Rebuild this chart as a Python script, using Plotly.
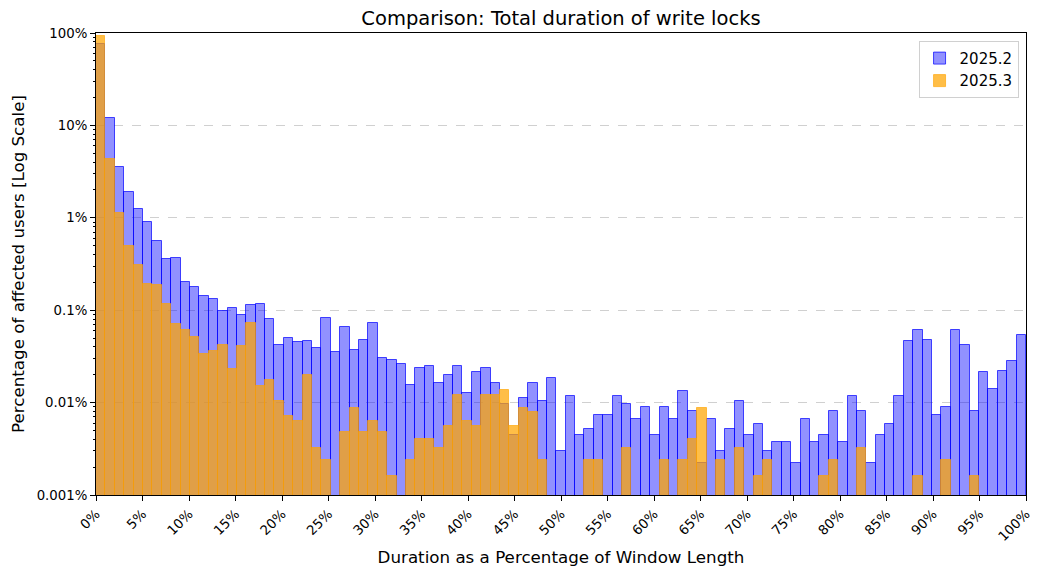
import numpy as np
import plotly.graph_objects as go

# percentage of affected users per duration bin (99 bins over 0-100 %)
v2025_2 = [
    76, 11.9, 3.52, 1.89, 1.245, 0.893, 0.557, 0.356, 0.365, 0.202,
    0.177, 0.141, 0.131, 0.0989, 0.105, 0.088, 0.113, 0.116, 0.0798, 0.0417,
    0.0497, 0.045, 0.046, 0.0387, 0.0817, 0.0353, 0.0653, 0.0371, 0.0475, 0.0721,
    0.0301, 0.0287, 0.0259, 0.0154, 0.0235, 0.0247, 0.0162, 0.0197, 0.0247, 0.0126,
    0.0213, 0.0235, 0.0162, 0.00966, 0.00446, 0.0112, 0.0162, 0.0103, 0.0183, 0.00297,
    0.0117, 0.00446, 0.00514, 0.0073, 0.0073, 0.0117, 0.0096, 0.00665, 0.0089, 0.00446,
    0.0089, 0.00665, 0.0132, 0.00805, 0.00222, 0.00665, 0.00297, 0.00514, 0.0104, 0.00446,
    0.00582, 0.00297, 0.00372, 0.00372, 0.00222, 0.00665, 0.00372, 0.00446, 0.0081, 0.00372,
    0.0117, 0.0081, 0.00222, 0.00446, 0.00586, 0.0117, 0.0465, 0.0611, 0.0475, 0.00735,
    0.00896, 0.0611, 0.042, 0.0081, 0.0214, 0.014, 0.022, 0.0282, 0.054,
]
v2025_3 = [
    92.7, 4.33, 1.13, 0.495, 0.308, 0.192, 0.188, 0.116, 0.071, 0.061,
    0.0513, 0.0336, 0.0361, 0.042, 0.0231, 0.041, 0.0726, 0.0151, 0.0174, 0.0104,
    0.00716, 0.00632, 0.0199, 0.00323, 0.0024, 0, 0.0048, 0.0088, 0.0048, 0.0064,
    0.0048, 0.0016, 0, 0.0024, 0.004, 0.004, 0.0032, 0.0056, 0.012, 0.0064,
    0.0056, 0.012, 0.012, 0.0136, 0.0056, 0.0088, 0.008, 0.0024, 0, 0,
    0, 0, 0.0024, 0.0024, 0, 0, 0.0032, 0, 0, 0,
    0.0024, 0, 0.0024, 0.004, 0.0088, 0, 0.0024, 0, 0.0032, 0,
    0.0016, 0.0024, 0, 0, 0, 0, 0, 0.0016, 0.0024, 0,
    0, 0.0032, 0, 0, 0, 0, 0, 0.0016, 0, 0,
    0.0024, 0, 0, 0.0016, 0, 0, 0, 0, 0,
]
series_names = ["2025.2", "2025.3"]
y_ticks = [0.001, 0.01, 0.1, 1, 10, 100]
y_labels = ["0.001%", "0.01%", "0.1%", "1%", "10%", "100%"]
x_ticks = list(range(0, 101, 5))
x_labels = [f"{t}%" for t in x_ticks]

edges = np.linspace(0, 100, len(v2025_2) + 1)
centers = (edges[:-1] + edges[1:]) / 2
width = edges[1] - edges[0]


def clean(vals):
    # zero-height bins are not drawn on a log axis
    return [v if v > 0 else None for v in vals]


fig = go.Figure()
fig.add_trace(go.Bar(
    x=centers, y=clean(v2025_2), width=width, name=series_names[0],
    marker=dict(color="rgba(0,0,255,0.43)",
                line=dict(color="rgba(0,0,255,0.7)", width=1)),
))
fig.add_trace(go.Bar(
    x=centers, y=clean(v2025_3), width=width, name=series_names[1],
    marker=dict(color="rgba(255,165,0,0.72)",
                line=dict(color="rgba(255,165,0,0.65)", width=1)),
))

minor_vals = [m * 10.0 ** e for e in range(-3, 2) for m in range(2, 10)]

# the page body adds an 8px margin, so the figure is a bit smaller
fig.update_layout(
    width=1046, height=568,
    barmode="overlay",
    paper_bgcolor="white", plot_bgcolor="white",
    font=dict(family="DejaVu Sans", color="black", size=13.3),
    margin=dict(l=88, r=28, t=25, b=81),
    title=dict(text="Comparison: Total duration of write locks",
               x=0.5, xref="paper", xanchor="center",
               y=0.982, yanchor="middle", font=dict(size=19.5)),
    legend=dict(x=0.992, y=0.983, xanchor="right", yanchor="top",
                bgcolor="rgba(255,255,255,0.8)", bordercolor="#d0d0d0",
                borderwidth=1, font=dict(size=15)),
    bargap=0,
)
fig.update_xaxes(
    range=[0, 100], tickmode="array", tickvals=x_ticks, ticktext=x_labels,
    tickangle=-45, ticks="outside", ticklen=5, tickcolor="black",
    showline=True, linecolor="black", linewidth=1, mirror=True,
    showgrid=False, zeroline=False, automargin=False,
    title=dict(text="Duration as a Percentage of Window Length",
               font=dict(size=16.7), standoff=8),
)
fig.update_yaxes(
    type="log", range=[-3, 2], tickmode="array",
    tickvals=y_ticks, ticktext=y_labels,
    ticks="outside", ticklen=5, tickcolor="black",
    minor=dict(tickmode="array", tickvals=minor_vals, ticks="outside",
               ticklen=2.5, tickcolor="black", showgrid=False),
    showline=True, linecolor="black", linewidth=1, mirror=True,
    showgrid=True, gridcolor="#d0d0d0", griddash="dash", gridwidth=1,
    zeroline=False, automargin=False,
    title=dict(text="Percentage of affected users [Log Scale]",
               font=dict(size=16.7), standoff=12),
)

fig.write_html("out.html")
